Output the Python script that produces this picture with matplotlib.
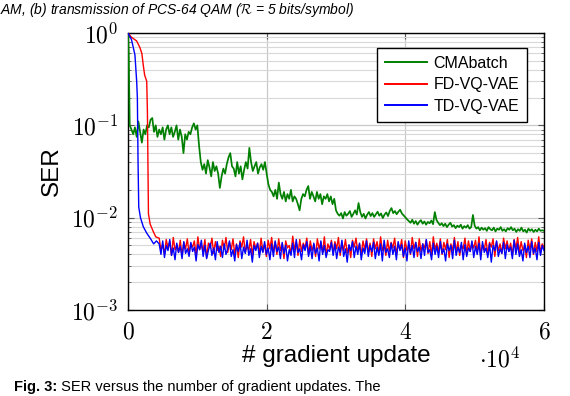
"""SER vs. number of gradient updates (CMAbatch, FD-VQ-VAE, TD-VQ-VAE)."""
import matplotlib
matplotlib.use("Agg")
import matplotlib.pyplot as plt
import numpy as np
from matplotlib.ticker import FixedLocator, FuncFormatter, LogLocator, NullFormatter

# ---- data ----
# CMAbatch: fast initial drop, then a staircase of noisy plateaus (tail: every 250 updates)
cma_head_x = [0, 100]
cma_head_y = [1.0, 0.6]
cma_tail_y = [
    0.1, 0.09, 0.08, 0.095, 0.075, 0.11, 0.085, 0.065, 0.09, 0.08, 0.1, 0.095, 0.115, 0.12, 0.085, 0.1, 0.075, 0.09, 0.08, 0.095,
    0.07, 0.09, 0.1, 0.08, 0.095, 0.075, 0.085, 0.1, 0.07, 0.09, 0.075, 0.05, 0.08, 0.07, 0.085, 0.08, 0.095, 0.105, 0.09, 0.1,
    0.06, 0.04, 0.033, 0.038, 0.03, 0.042, 0.035, 0.028, 0.04, 0.032, 0.036, 0.03, 0.021, 0.028, 0.034, 0.03, 0.038, 0.045, 0.05, 0.036,
    0.034, 0.028, 0.04, 0.03, 0.036, 0.026, 0.033, 0.04, 0.034, 0.057, 0.04, 0.032, 0.036, 0.04, 0.03, 0.035, 0.038, 0.033, 0.04, 0.03,
    0.023, 0.02, 0.019, 0.017, 0.02, 0.016, 0.024, 0.018, 0.016, 0.019, 0.015, 0.018, 0.016, 0.02, 0.015, 0.017, 0.016, 0.014, 0.012, 0.016,
    0.018, 0.017, 0.02, 0.022, 0.016, 0.019, 0.017, 0.015, 0.019, 0.016, 0.018, 0.014, 0.017, 0.016, 0.018, 0.015, 0.017, 0.014, 0.016, 0.012,
    0.011, 0.0105, 0.0112, 0.0098, 0.0115, 0.0105, 0.011, 0.0118, 0.0102, 0.011, 0.012, 0.0108, 0.0144, 0.0115, 0.0102, 0.011, 0.0098, 0.0108, 0.0115, 0.0104,
    0.0112, 0.0102, 0.0109, 0.0116, 0.0105, 0.0111, 0.0099, 0.0108, 0.0114, 0.0104, 0.0118, 0.0127, 0.0112, 0.0118, 0.0109, 0.0116, 0.0122, 0.0111, 0.0106, 0.0101,
    0.0096, 0.0092, 0.0088, 0.0095, 0.0086, 0.0092, 0.0084, 0.009, 0.0094, 0.0086, 0.0091, 0.0084, 0.009, 0.0087, 0.0093, 0.0085, 0.0115, 0.0094, 0.0088, 0.0083,
    0.0087, 0.0081, 0.0086, 0.0079, 0.0084, 0.0088, 0.008, 0.0083, 0.0077, 0.0082, 0.0079, 0.0084, 0.0076, 0.0081, 0.0078, 0.0083, 0.0076, 0.0079, 0.0107, 0.0082,
    0.0076, 0.0079, 0.0073, 0.0078, 0.0074, 0.0077, 0.0072, 0.0079, 0.0075, 0.0073, 0.0078, 0.0071, 0.0076, 0.0074, 0.0079, 0.0072, 0.0075, 0.0071, 0.0077, 0.0074,
    0.0079, 0.0073, 0.0076, 0.007, 0.0075, 0.0072, 0.0078, 0.0071, 0.0074, 0.0069, 0.0076, 0.0072, 0.0075, 0.007, 0.0074, 0.0071, 0.0076, 0.0072, 0.0073, 0.0072,
]

# FD-VQ-VAE: slower start, then a noisy floor (tail: 4500..60000)
fd_head_x = [0, 500, 1250, 1700, 2000, 2200, 2400, 2700, 2800, 2870, 2950, 3200, 3600, 4000]
fd_head_y = [1.0, 0.9, 0.82, 0.7, 0.6, 0.45, 0.35, 0.3, 0.14, 0.04, 0.011, 0.0085, 0.0072, 0.0062]
fd_tail_y = [
    0.0060, 0.0044, 0.0052, 0.0040, 0.0058, 0.0047, 0.0055, 0.0039, 0.0061, 0.0045, 0.0050, 0.0042, 0.0057, 0.0038, 0.0054, 0.0046, 0.0059, 0.0041, 0.0052, 0.0048,
    0.0056, 0.0039, 0.0062, 0.0045, 0.0051, 0.0043, 0.0058, 0.0037, 0.0053, 0.0047, 0.0060, 0.0041, 0.0055, 0.0044, 0.0049, 0.0038, 0.0057, 0.0046, 0.0061, 0.0042,
    0.0054, 0.0045, 0.0059, 0.0040, 0.0052, 0.0037, 0.0056, 0.0048, 0.0062, 0.0042, 0.0050, 0.0044, 0.0058, 0.0039, 0.0055, 0.0046, 0.0053, 0.0041, 0.0060, 0.0043,
    0.0051, 0.0038, 0.0057, 0.0046, 0.0061, 0.0042, 0.0054, 0.0040, 0.0059, 0.0044, 0.0052, 0.0036, 0.0056, 0.0047, 0.0050, 0.0041, 0.0063, 0.0045, 0.0055, 0.0039,
    0.0058, 0.0043, 0.0053, 0.0047, 0.0060, 0.0040, 0.0056, 0.0044, 0.0051, 0.0038, 0.0059, 0.0046, 0.0054, 0.0042, 0.0062, 0.0039, 0.0052, 0.0045, 0.0057, 0.0041,
    0.0055, 0.0046, 0.0061, 0.0039, 0.0053, 0.0044, 0.0058, 0.0041, 0.0050, 0.0037, 0.0057, 0.0048, 0.0060, 0.0043, 0.0052, 0.0040, 0.0056, 0.0045, 0.0059, 0.0042,
    0.0053, 0.0038, 0.0059, 0.0046, 0.0055, 0.0041, 0.0062, 0.0044, 0.0051, 0.0039, 0.0057, 0.0043, 0.0054, 0.0047, 0.0060, 0.0040, 0.0052, 0.0045, 0.0058, 0.0037,
    0.0056, 0.0044, 0.0050, 0.0040, 0.0061, 0.0046, 0.0054, 0.0038, 0.0059, 0.0043, 0.0052, 0.0047, 0.0057, 0.0041, 0.0055, 0.0039, 0.0062, 0.0045, 0.0053, 0.0042,
    0.0059, 0.0040, 0.0054, 0.0045, 0.0058, 0.0037, 0.0052, 0.0044, 0.0061, 0.0042, 0.0055, 0.0039, 0.0050, 0.0046, 0.0060, 0.0041, 0.0056, 0.0043, 0.0053, 0.0047,
    0.0057, 0.0042, 0.0062, 0.0039, 0.0051, 0.0045, 0.0058, 0.0040, 0.0054, 0.0048, 0.0059, 0.0038, 0.0055, 0.0044, 0.0052, 0.0041, 0.0060, 0.0046, 0.0056, 0.0043,
    0.0053, 0.0039, 0.0058, 0.0046, 0.0061, 0.0042, 0.0055, 0.0044, 0.0050, 0.0037, 0.0057, 0.0045, 0.0059, 0.0040, 0.0054, 0.0043, 0.0062, 0.0041, 0.0052, 0.0047,
]

# TD-VQ-VAE: fastest start, noisy floor just below FD-VQ-VAE (tail: 4500..60000)
td_head_x = [0, 500, 1000, 1250, 1350, 1450, 1550, 1800, 2200, 2700, 3200, 3700, 4100]
td_head_y = [1.0, 0.85, 0.58, 0.3, 0.2, 0.04, 0.013, 0.01, 0.008, 0.0068, 0.006, 0.0052, 0.0056]
td_tail_y = [
    0.0052, 0.0040, 0.0056, 0.0037, 0.0050, 0.0044, 0.0058, 0.0039, 0.0047, 0.0035, 0.0053, 0.0042, 0.0049, 0.0036, 0.0055, 0.0041, 0.0046, 0.0038, 0.0054, 0.0043,
    0.0048, 0.0034, 0.0051, 0.0045, 0.0057, 0.0038, 0.0050, 0.0036, 0.0044, 0.0053, 0.0039, 0.0047, 0.0035, 0.0055, 0.0042, 0.0049, 0.0037, 0.0052, 0.0040, 0.0046,
    0.0056, 0.0038, 0.0045, 0.0034, 0.0051, 0.0043, 0.0054, 0.0036, 0.0048, 0.0041, 0.0057, 0.0039, 0.0046, 0.0033, 0.0050, 0.0044, 0.0053, 0.0037, 0.0049, 0.0042,
    0.0055, 0.0040, 0.0047, 0.0035, 0.0052, 0.0038, 0.0056, 0.0043, 0.0048, 0.0036, 0.0054, 0.0041, 0.0050, 0.0034, 0.0045, 0.0039, 0.0053, 0.0037, 0.0058, 0.0042,
    0.0046, 0.0035, 0.0051, 0.0044, 0.0055, 0.0038, 0.0049, 0.0036, 0.0053, 0.0041, 0.0047, 0.0034, 0.0056, 0.0040, 0.0050, 0.0037, 0.0045, 0.0043, 0.0054, 0.0039,
    0.0052, 0.0036, 0.0048, 0.0042, 0.0057, 0.0038, 0.0046, 0.0033, 0.0051, 0.0044, 0.0055, 0.0037, 0.0049, 0.0040, 0.0053, 0.0035, 0.0047, 0.0041, 0.0056, 0.0038,
    0.0050, 0.0043, 0.0054, 0.0036, 0.0048, 0.0039, 0.0052, 0.0034, 0.0057, 0.0042, 0.0046, 0.0037, 0.0053, 0.0040, 0.0049, 0.0035, 0.0055, 0.0044, 0.0051, 0.0038,
    0.0047, 0.0034, 0.0056, 0.0041, 0.0050, 0.0037, 0.0054, 0.0043, 0.0048, 0.0036, 0.0052, 0.0039, 0.0058, 0.0042, 0.0045, 0.0035, 0.0053, 0.0040, 0.0049, 0.0037,
    0.0055, 0.0041, 0.0046, 0.0034, 0.0052, 0.0044, 0.0050, 0.0036, 0.0057, 0.0039, 0.0048, 0.0042, 0.0054, 0.0035, 0.0051, 0.0038, 0.0047, 0.0043, 0.0056, 0.0037,
    0.0049, 0.0040, 0.0053, 0.0035, 0.0055, 0.0042, 0.0047, 0.0037, 0.0052, 0.0033, 0.0050, 0.0044, 0.0056, 0.0038, 0.0046, 0.0041, 0.0054, 0.0036, 0.0051, 0.0043,
    0.0048, 0.0036, 0.0057, 0.0040, 0.0052, 0.0038, 0.0045, 0.0034, 0.0053, 0.0042, 0.0049, 0.0037, 0.0055, 0.0041, 0.0047, 0.0035, 0.0054, 0.0039, 0.0050, 0.0044,
]

labels = ["CMAbatch", "FD-VQ-VAE", "TD-VQ-VAE"]
colors = ["#008000", "#ff0000", "#0000ff"]
widths = [1.25, 1.0, 1.0]

top_caption = r"AM, (b) transmission of PCS-64 QAM ($\mathcal{R}$ = 5 bits/symbol)"
fig_label = "Fig. 3:"
bottom_caption = " SER versus the number of gradient updates. The"


def main():
    plt.rcParams["mathtext.fontset"] = "cm"
    sans = "Liberation Sans"

    cma_x = np.concatenate([cma_head_x, np.linspace(250, 60000, len(cma_tail_y))])
    cma_y = np.concatenate([cma_head_y, cma_tail_y])
    fd_x = np.concatenate([fd_head_x, np.linspace(4500, 60000, len(fd_tail_y))])
    fd_y = np.concatenate([fd_head_y, fd_tail_y])
    td_x = np.concatenate([td_head_x, np.linspace(4500, 60000, len(td_tail_y))])
    td_y = np.concatenate([td_head_y, td_tail_y])

    fig = plt.figure(figsize=(5.70, 3.96), dpi=100)
    ax = fig.add_axes([128 / 570, 1 - 310 / 396, 416 / 570, 277 / 396])

    series = [(cma_x, cma_y), (fd_x, fd_y), (td_x, td_y)]
    for (x, y), lab, c, w in zip(series, labels, colors, widths):
        ax.plot(x, y, color=c, lw=w, label=lab, zorder=3)

    ax.set_yscale("log")
    ax.set_xlim(0, 60000)
    ax.set_ylim(1e-3, 1)

    ax.xaxis.set_major_locator(FixedLocator([0, 20000, 40000, 60000]))
    ax.xaxis.set_major_formatter(FuncFormatter(lambda v, p: f"${v / 1e4:g}$"))
    ax.yaxis.set_major_locator(LogLocator(base=10, numticks=10))
    ax.yaxis.set_minor_locator(LogLocator(base=10, subs=np.arange(2, 10), numticks=20))
    ax.yaxis.set_minor_formatter(NullFormatter())
    ax.yaxis.set_major_formatter(FuncFormatter(lambda v, p: f"$10^{{{int(round(np.log10(v)))}}}$"))

    ax.grid(True, which="major", color="#c8c8c8", lw=0.9, zorder=0)
    ax.grid(True, which="minor", axis="y", color="#d8d8d8", lw=0.8, zorder=0)
    ax.tick_params(which="both", direction="in", labelsize=17, color="#555555",
                   top=True, right=True)
    ax.tick_params(which="major", length=4, width=0.8, pad=7)
    ax.tick_params(which="minor", length=2.5, width=0.6)
    for s in ax.spines.values():
        s.set_linewidth(1.0)

    ax.set_ylabel("SER", fontsize=17.5, family=sans, labelpad=6)
    ax.set_xlabel("# gradient update", fontsize=17.5, family=sans, labelpad=1)
    fig.text(500 / 570, 1 - 360 / 396, r"$\cdot 10^4$", fontsize=17, ha="center", va="center")

    leg = ax.legend(loc="upper right", bbox_to_anchor=(527 / 570, 1 - 48 / 396),
                    bbox_transform=fig.transFigure, borderaxespad=0,
                    prop={"family": sans, "size": 11.5},
                    frameon=True, fancybox=False, edgecolor="black", framealpha=1,
                    handlelength=2.6, borderpad=0.5, labelspacing=0.4, handletextpad=0.4)
    leg.get_frame().set_linewidth(1.0)
    for line in leg.get_lines():
        line.set_linewidth(1.4)

    # caption fragments from the page around the figure
    fig.text(0.0, 1 - 1 / 396, top_caption, fontsize=10, family=sans, style="italic",
             ha="left", va="top")
    t1 = fig.text(14 / 570, 2 / 396, fig_label, fontsize=10.5, family=sans,
                  fontweight="bold", ha="left", va="bottom")
    fig.canvas.draw()
    bb = t1.get_window_extent()
    fig.text(bb.x1 / fig.bbox.width, 2 / 396, bottom_caption, fontsize=10.5, family=sans,
             ha="left", va="bottom")

    fig.savefig("out.png", dpi=100)


if __name__ == "__main__":
    main()
